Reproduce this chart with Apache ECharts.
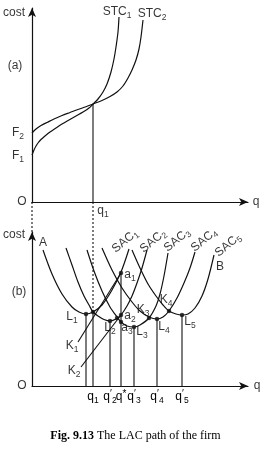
<!DOCTYPE html>
<html><head><meta charset="utf-8">
<script src="https://cdn.jsdelivr.net/npm/echarts@6/dist/echarts.min.js"></script>
<style>html,body{margin:0;padding:0;background:#fff}#c{width:271px;height:451px}</style>
</head><body><div id="c"></div>
<script>
// ---------- data ----------
// panel (a): short-run total cost curves
const stc1 = [[0,47],[2,52],[4,56],[6,59],[9,62.5],[13,66],[18,70],[24,74],[30,78],[37,82],[44,86],[51,90],[57,94],[61,98],[66,103],[71,110],[75,118],[79,130],[82,143],[84,155],[86,170],[87,185]];
const stc2 = [[0,69],[4,73],[9,76.5],[15,79.5],[22,83],[30,86.5],[38,89.5],[46,92.5],[54,95.2],[61,98],[70,101.5],[78,105.5],[85,110],[91,116],[96,124],[100,132],[104,142],[107,153],[109,165],[111,182]];
const q1Value = 61;
const stcMeet = [61, 98];
// panel (b): short-run average cost curves
const sac1 = [[11,136],[20,112],[30,92],[40,79],[47,74],[54,72],[61,74],[70,81],[80,96],[89,114],[97,137]];
const sac2 = [[34,138],[40,121],[46,104],[52,90],[57,81],[61,74],[66,70],[72,66.5],[78,65],[85,67.5],[89,71],[95,80],[100,90],[105,103],[110,118],[115,136]];
const sac3 = [[55,136],[62,115],[70,95],[78,79],[85,69],[89,64],[95,60],[102,59],[108,61],[117,68],[124,80],[128,92],[132,110],[136,133]];
const sac4 = [[70,138],[80,116],[90,98],[100,84],[108,75],[117,69],[125,67],[131,69],[137,75],[145,88],[152,103],[158,118],[163,134]];
const sac5 = [[100,136],[108,118],[116,102],[124,90],[131,81],[137,75],[144,72],[150,71],[156,72],[163,78],[170,90],[176,107],[182,131]];
const k1Line = [[46,44],[89,113]];
const k2Line = [[49,19],[89,71]];
const dotPoints = [[54,72],[61,74],[78,65],[85,68],[89,71],[89,64],[102,59],[117,68],[125,67],[137,75],[150,71],[89,113]];
const dropPoints = [[54,72],[61,74],[78,65],[89,113],[102,59],[125,67],[150,71]];
const qTickValues = [54,61,78,89,102,125,150];
const qTickLabels = ["q{p|′}{s|1}","q{s|1}","q{p|′}{s|2}","q{p|*}","q{p|′}{s|3}","q{p|′}{s|4}","q{p|′}{s|5}"];
// text annotations
const topTexts = ['cost','(a)','F{s|2}','F{s|1}','O','q','q{s|1}','STC{s|1}','STC{s|2}'];
const bottomTexts = ['cost','(b)','O','q','A','B','a{s|1}','L{s|1}','K{s|1}','K{s|2}','L{s|2}','a{s|2}','a{s|3}','L{s|3}','K{s|3}','L{s|4}','K{s|4}','L{s|5}'];
const sacTexts = ['SAC{s|1}','SAC{s|2}','SAC{s|3}','SAC{s|4}','SAC{s|5}'];
const captionBold = 'Fig. 9.13';
const captionText = 'The LAC path of the firm';

// ---------- layout ----------
const topTextAt = [[-18,189],[-17,136],[-14,69],[-14,46],[-10,0],[224,0],[71,-9],[85,190],[120,188]];
const bottomTextAt = [[-18,151],[-13,94],[-10,0],[225,0],[11,143],[188,119],[98,111],[40,69],[40,40],[42,15],[78,58],[98,70],[95,58],[110,54],[111,76],[132,59],[134,86],[158,64]];
const sacTextAt = [[93,145],[121,145],[145,146],[172,146],[196,141]];

const FONT = 'Liberation Sans';
const rich = {
  s: {fontSize: 8.5, fontFamily: FONT, color: '#000', padding: [7,0,0,0]},
  p: {fontSize: 10, fontFamily: FONT, color: '#000', padding: [0,0,6,0]}
};
const ink = '#111';
const curve = (data, xi) => ({type:'line', xAxisIndex:xi, yAxisIndex:xi, data, smooth:0.3,
  symbol:'none', lineStyle:{color:ink, width:1.2}, silent:true, clip:false});
const straight = (data, xi, type) => ({type:'line', xAxisIndex:xi, yAxisIndex:xi, data, symbol:'none',
  lineStyle:{color:ink, width:1.1, type:type||'solid'}, silent:true, clip:false});
const textSeries = (texts, at, xi, extra) => ({type:'scatter', xAxisIndex:xi, yAxisIndex:xi, symbolSize:0, clip:false, silent:true,
  data: texts.map((t,i)=>({value:at[i], label:{formatter:t}})),
  label:Object.assign({show:true, position:'inside', color:'#000', fontSize:12, fontFamily:FONT, rich}, extra||{})});

const axisLine = {show:true, onZero:true, symbol:['none','arrow'], symbolSize:[6,9], lineStyle:{color:ink, width:1.2}};
const baseAxis = {type:'value', splitLine:{show:false}, axisTick:{show:false}, axisLabel:{show:false}, axisLine};

const series = [
  curve(stc1,0), curve(stc2,0),
  straight([stcMeet,[stcMeet[0],0]],0),
  straight([[0,0],[0,-30]],0,[2,2]),
  straight([[q1Value,0],[q1Value,-110]],0,[2,2]),
  textSeries(topTexts, topTextAt, 0),
  curve(sac1,1), curve(sac2,1), curve(sac3,1), curve(sac4,1), curve(sac5,1),
  straight(k1Line,1), straight(k2Line,1),
];
dropPoints.forEach(p => series.push(straight([p,[p[0],0]],1)));
series.push({type:'scatter', xAxisIndex:1, yAxisIndex:1, data:dotPoints, symbol:'circle', symbolSize:4.5,
  itemStyle:{color:ink}, silent:true, clip:false});
series.push(textSeries(bottomTexts, bottomTextAt, 1));
series.push(textSeries(sacTexts, sacTextAt, 1, {rotate:40}));

const chart = echarts.init(document.getElementById('c'), null, {renderer:'canvas'});
chart.setOption({
  animation:false,
  backgroundColor:'#fff',
  textStyle:{fontFamily:FONT},
  title:{text:'{b|'+captionBold+'} '+captionText, left:'center', top:425,
    textStyle:{fontFamily:'Liberation Serif', fontSize:12, fontWeight:'normal', color:'#000',
      rich:{b:{fontFamily:'Liberation Serif', fontSize:12, fontWeight:'bold', color:'#000'}}}},
  grid:[{left:32, top:8, width:216, height:194}, {left:32, top:232, width:216, height:154}],
  xAxis:[Object.assign({}, baseAxis, {gridIndex:0, min:0, max:216}),
         Object.assign({}, baseAxis, {gridIndex:1, min:0, max:216,
           axisLabel:{show:true, customValues:qTickValues, margin:3, color:'#000', fontSize:12, fontFamily:FONT, rich,
             formatter:(v)=>{const i=qTickValues.indexOf(v); return i<0?'':qTickLabels[i];}}})],
  yAxis:[Object.assign({}, baseAxis, {gridIndex:0, min:0, max:194}),
         Object.assign({}, baseAxis, {gridIndex:1, min:0, max:154})],
  series
});
</script></body></html>
